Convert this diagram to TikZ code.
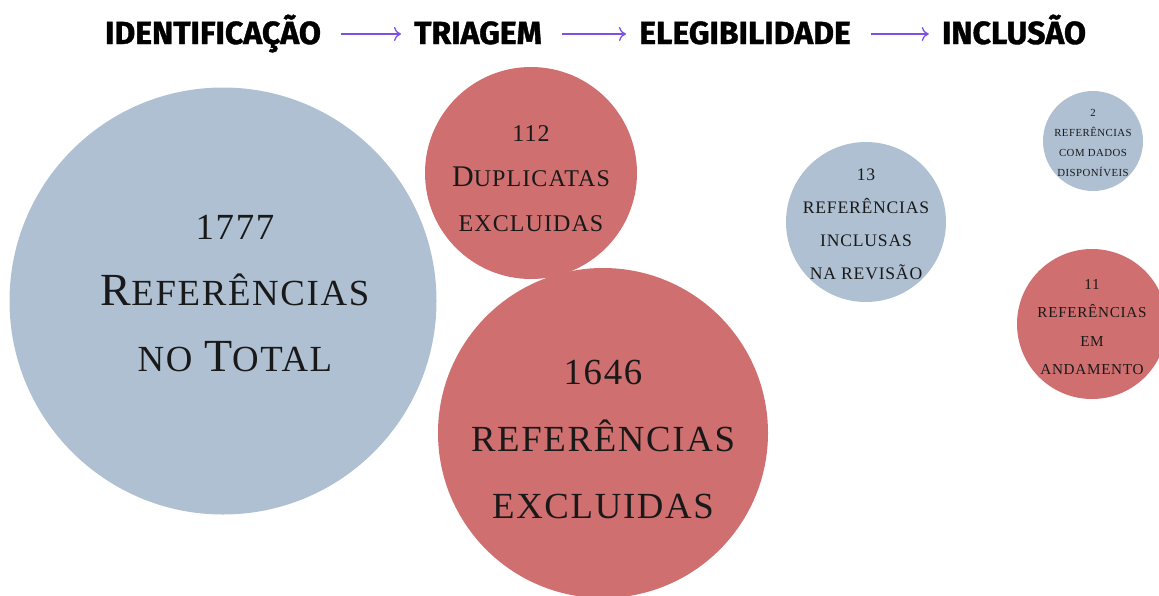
\documentclass[tikz,border=0pt]{standalone}
\usepackage{fontspec}
\setmainfont{Liberation Serif}
\newfontfamily\hdr{Fira Sans}[BoldFeatures={FakeBold=1.2}]
\usetikzlibrary{arrows.meta}
\definecolor{cblue}{HTML}{AFC0D2}
\definecolor{cred}{HTML}{D06F70}
\definecolor{cpurple}{HTML}{7B4FE8}
\newcommand\smc[1]{{\addfontfeatures{Scale=0.8,LetterSpace=4.5}#1}}
\begin{document}
\begin{tikzpicture}[x=1pt,y=1pt,
  bubble/.style={circle,inner sep=0pt},
  bluec/.style={bubble,fill=cblue},
  redc/.style={bubble,fill=cred},
  ctext/.style={align=center,inner sep=0pt,text=black!90},
  head/.style={font=\hdr\bfseries\fontsize{32}{34}\selectfont,inner sep=0pt,anchor=base},
  harrow/.style={draw=cpurple,line width=1.3pt,-{To[length=7pt,width=14pt]},shorten <=20pt,shorten >=13pt}
]
\useasboundingbox (0,0) rectangle (1159,-595);
% header
\node[head] (h1) at (213,-44) {IDENTIFICAÇÃO};
\node[head] (h2) at (478,-44) {TRIAGEM};
\node[head] (h3) at (745,-44) {ELEGIBILIDADE};
\node[head] (h4) at (1014,-44) {INCLUSÃO};
\draw[harrow] ([yshift=10pt]h1.base east) -- ([yshift=10pt]h2.base west);
\draw[harrow] ([yshift=10pt]h2.base east) -- ([yshift=10pt]h3.base west);
\draw[harrow] ([yshift=10pt]h3.base east) -- ([yshift=10pt]h4.base west);
% circles
\node[bluec,minimum size=427pt] (c1777) at (223,-301) {};
\node[redc,minimum size=212pt] (c112) at (531,-173) {};
\node[redc,minimum size=330pt] (c1646) at (603,-433) {};
\node[bluec,minimum size=160pt] (c13) at (866,-222) {};
\node[bluec,minimum size=100pt] (c2) at (1093,-141) {};
\node[redc,minimum size=150pt] (c11) at (1092,-324) {};
% texts
\node[ctext,font=\fontsize{46}{66}\selectfont] (t1777) at ([xshift=12pt,yshift=7pt]c1777.center)
  {\smc{1777}\\R\smc{EFERÊNCIAS}\\\smc{NO} T\smc{OTAL}};
\node[ctext,font=\fontsize{30}{45}\selectfont] (t112) at ([yshift=-6pt]c112.center)
  {\smc{112}\\D\smc{UPLICATAS}\\\smc{EXCLUIDAS}};
\node[ctext,font=\fontsize{46}{67}\selectfont] (t1646) at ([yshift=-6pt]c1646.center)
  {\smc{1646}\\\smc{REFERÊNCIAS}\\\smc{EXCLUIDAS}};
\node[ctext,font=\fontsize{22}{33}\selectfont] (t13) at ([yshift=-2pt]c13.center)
  {\smc{13}\\\smc{REFERÊNCIAS}\\\smc{INCLUSAS}\\\smc{NA REVISÃO}};
\node[ctext,font=\fontsize{13.5}{20}\selectfont] (t2) at ([yshift=-2pt]c2.center)
  {\smc{2}\\\smc{REFERÊNCIAS}\\\smc{COM DADOS}\\\smc{DISPONÍVEIS}};
\node[ctext,font=\fontsize{19}{28.5}\selectfont] (t11) at ([yshift=-3pt]c11.center)
  {\smc{11}\\\smc{REFERÊNCIAS}\\\smc{EM}\\\smc{ANDAMENTO}};
\end{tikzpicture}
\end{document}
